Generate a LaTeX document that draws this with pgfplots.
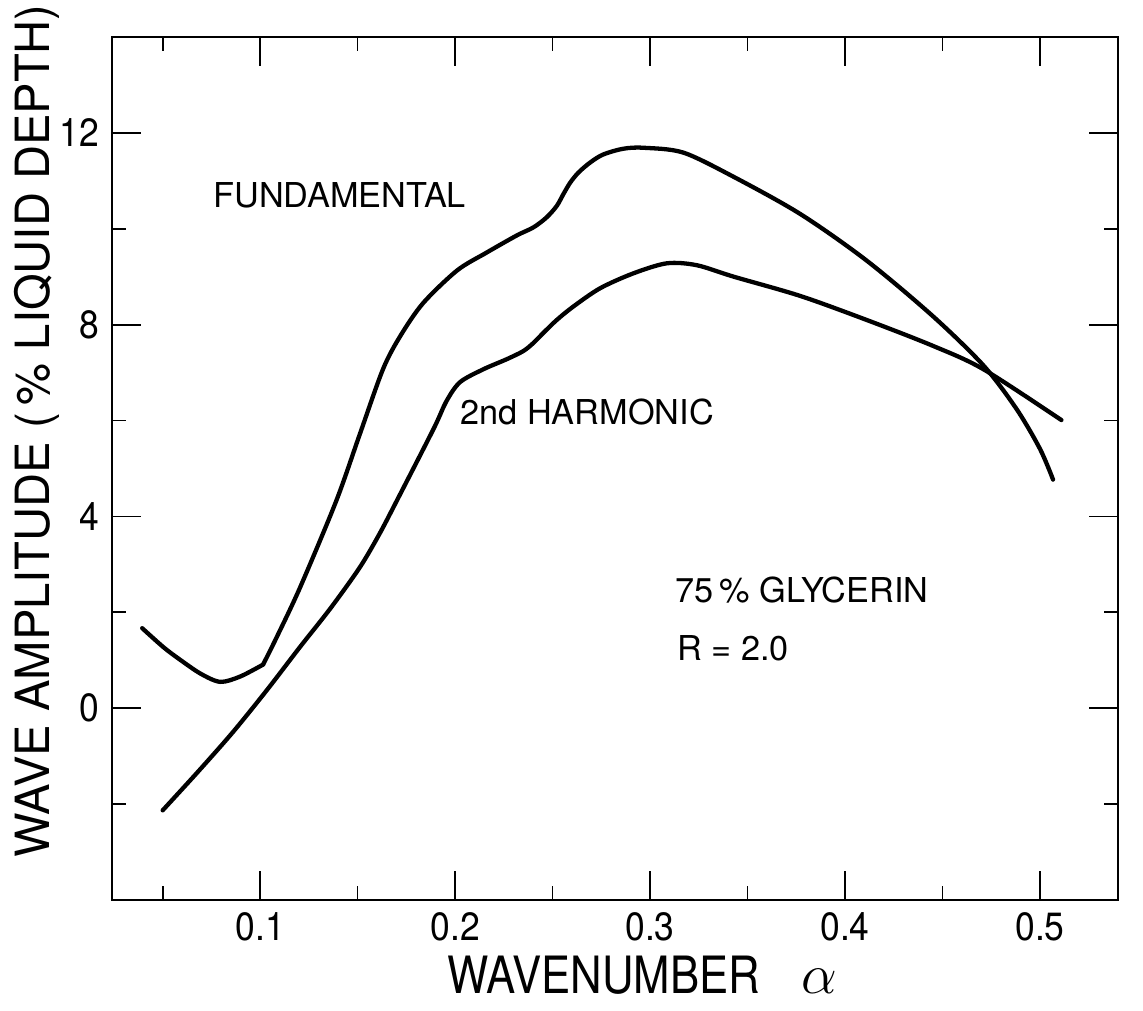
\documentclass[border=0pt]{standalone}
\usepackage{fontspec}
\setmainfont{TeX Gyre Heros}
\newfontfamily\xlfont[FakeStretch=0.85]{TeX Gyre Heros}
\newfontfamily\tkfont[FakeStretch=0.9]{TeX Gyre Heros}
\usepackage{pgfplots}
\pgfplotsset{compat=1.18}
\begin{document}
\begin{tikzpicture}
\begin{axis}[
  scale only axis, width=352.1pt, height=302.05pt,
  xmin=0.024, xmax=0.54, ymin=-4, ymax=14,
  xtick={0.1,0.2,0.3,0.4,0.5}, xticklabels={0.1,0.2,0.3,0.4,0.5},
  minor xtick={0.05,0.15,0.25,0.35,0.45},
  ytick={0,4,8,12}, yticklabels={0,4,8,12},
  minor ytick={-2,2,6,10},
  xtick pos=both, ytick pos=both,
  tick align=inside,
  major tick length=10pt, minor tick length=5pt,
  tick style={line width=0.6pt, black},
  axis line style={line width=0.7pt},
  tick label style={font=\tkfont\fontsize{13.8}{15}\selectfont},
  xticklabel style={yshift=-1pt},
  yticklabel style={xshift=-1pt},
  xlabel={WAVENUMBER\hspace{0.8em}\scalebox{1.15}{$\alpha$}},
  ylabel={WAVE AMPLITUDE (\,\% LIQUID DEPTH)},
  xlabel style={font=\xlfont\fontsize{18}{20}\selectfont, at={(axis description cs:0.527,-0.108)}, anchor=base, inner sep=0pt},
  ylabel style={font=\fontsize{16.5}{18}\selectfont, at={(axis description cs:-0.0616,0.5435)}, anchor=base, inner sep=0pt},
  clip=false,
]
% fundamental (two pieces: sharp corner at 0.1015)
\addplot[black, line width=1.5pt, smooth, tension=0.5, line cap=round] coordinates {
(0.0395,1.67) (0.0505,1.27) (0.059,1.01) (0.0695,0.72) (0.0795,0.55) (0.0897,0.66) (0.1015,0.91)
};
\addplot[black, line width=1.5pt, smooth, tension=0.5, line cap=round] coordinates {
(0.1015,0.91) (0.1086,1.49) (0.1205,2.52) (0.139,4.32) (0.151,5.70) (0.163,7.07) (0.172,7.77) (0.1836,8.45)
(0.201,9.13) (0.2160,9.50) (0.2316,9.86) (0.2402,10.03) (0.2470,10.24) (0.2522,10.48) (0.2555,10.72)
(0.2590,10.96) (0.2632,11.17) (0.2692,11.38) (0.2760,11.55) (0.2863,11.67) (0.2966,11.69)
(0.317,11.59) (0.3426,11.09) (0.377,10.31) (0.411,9.34) (0.445,8.18)
(0.471,7.15) (0.488,6.24) (0.500,5.41) (0.5067,4.77)
};
% 2nd harmonic
\addplot[black, line width=1.5pt, smooth, tension=0.5, line cap=round] coordinates {
(0.050,-2.13) (0.068,-1.33) (0.086,-0.50) (0.1035,0.38) (0.1205,1.28) (0.136,2.08) (0.151,2.93)
(0.161,3.62) (0.170,4.32) (0.189,5.83) (0.1955,6.40) (0.2025,6.80) (0.2145,7.07) (0.2265,7.28)
(0.2350,7.45) (0.2402,7.62) (0.2453,7.83) (0.2522,8.10) (0.2607,8.38) (0.2744,8.76) (0.2914,9.07)
(0.3086,9.28) (0.3240,9.24) (0.343,9.00) (0.377,8.60) (0.411,8.10) (0.445,7.56)
(0.471,7.07) (0.511,6.01)
};
\node[anchor=west, font=\fontsize{12}{14}\selectfont, inner sep=0pt] at (axis cs:0.0758,10.70) {FUNDAMENTAL};
\node[anchor=west, font=\fontsize{12}{14}\selectfont, inner sep=0pt] at (axis cs:0.2025,6.18) {2nd HARMONIC};
\node[anchor=west, font=\fontsize{12}{14}\selectfont, inner sep=0pt] at (axis cs:0.3128,2.47) {75\,\% GLYCERIN};
\node[anchor=west, font=\fontsize{12}{14}\selectfont, inner sep=0pt] at (axis cs:0.3138,1.26) {R = 2.0};
\coordinate (bbl) at (rel axis cs:-0.1113,-0.1286);
\coordinate (btr) at (rel axis cs:1.0249,1.0429);
\end{axis}
\pgfresetboundingbox
\path (bbl) rectangle (btr);
\end{tikzpicture}
\end{document}
